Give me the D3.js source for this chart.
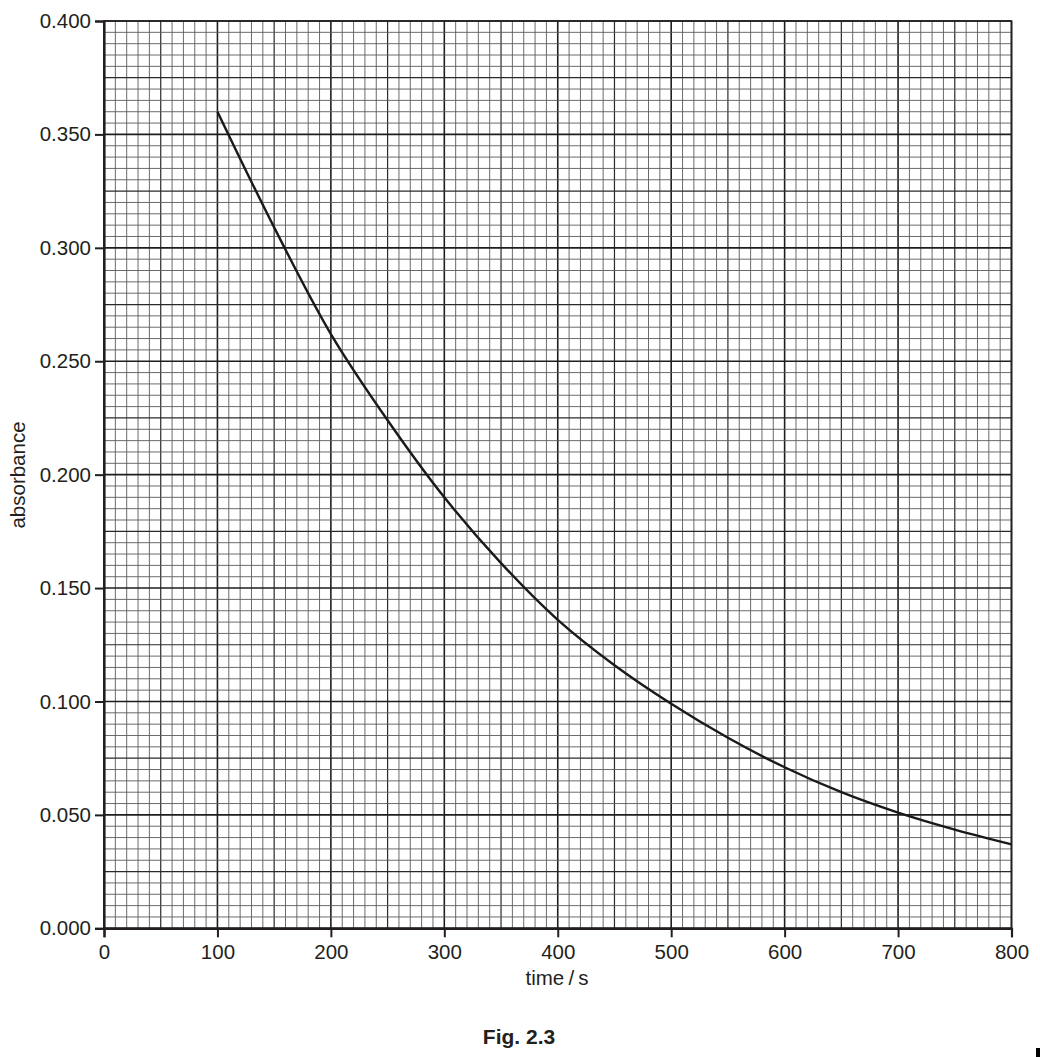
<!DOCTYPE html>
<html>
<head>
<meta charset="utf-8">
<script src="https://cdn.jsdelivr.net/npm/d3@7/dist/d3.min.js"></script>
<style>
  body { margin: 0; background: #fff; }
  text { font-family: "Liberation Sans", Arial, sans-serif; fill: #231f20; }
</style>
</head>
<body>
<script>
// Curve values (time in s, absorbance), every 50 s
const times = [100, 150, 200, 250, 300, 350, 400, 450, 500, 550, 600, 650, 700, 750, 800];
const absorbance = [0.360, 0.309, 0.262, 0.224, 0.190, 0.161, 0.136, 0.116, 0.099, 0.084, 0.071, 0.060, 0.051, 0.0435, 0.037];

// tick labels
const xTicks = [0, 100, 200, 300, 400, 500, 600, 700, 800];
const yTicks = [0, 0.05, 0.1, 0.15, 0.2, 0.25, 0.3, 0.35, 0.4];

const margin = { top: 21, left: 104 };
const width = 907.5;
const height = 907.3;

const svg = d3.select("body").append("svg")
  .attr("width", 1040)
  .attr("height", 1057);

const g = svg.append("g")
  .attr("transform", `translate(${margin.left},${margin.top})`);

const x = d3.scaleLinear().domain([0, 800]).range([0, width]);
const y = d3.scaleLinear().domain([0, 0.4]).range([height, 0]);

// graph paper: minor every 10 s / 0.005, medium at 50 s / 0.025, major at 100 s / 0.05
const xMinor = d3.range(0, 801, 10);
const yMinor = d3.range(0, 81).map(i => i * 0.005);

function lineStyle(i) {
  if (i % 10 === 0) return { c: "#1e1e1e", w: 1.6 };
  if (i % 5 === 0) return { c: "#2a2a2a", w: 1.2 };
  return { c: "#5a5a5a", w: 0.9 };
}

const grid = g.append("g").attr("class", "grid");

grid.selectAll("line.v")
  .data(xMinor)
  .join("line")
  .attr("class", "v")
  .attr("x1", d => x(d)).attr("x2", d => x(d))
  .attr("y1", 0).attr("y2", height)
  .attr("stroke", (d, i) => lineStyle(i).c)
  .attr("stroke-width", (d, i) => lineStyle(i).w);

grid.selectAll("line.h")
  .data(yMinor)
  .join("line")
  .attr("class", "h")
  .attr("x1", 0).attr("x2", width)
  .attr("y1", d => y(d)).attr("y2", d => y(d))
  .attr("stroke", (d, i) => lineStyle(i).c)
  .attr("stroke-width", (d, i) => lineStyle(i).w);

// frame
g.append("rect")
  .attr("width", width).attr("height", height)
  .attr("fill", "none").attr("stroke", "#231f20").attr("stroke-width", 1.6);

// axes
const xAxis = d3.axisBottom(x).tickValues(xTicks).tickSize(9).tickPadding(6).tickFormat(d3.format("d"));
const yAxis = d3.axisLeft(y).tickValues(yTicks).tickSize(9).tickPadding(4).tickFormat(d3.format(".3f"));

const gx = g.append("g").attr("transform", `translate(0,${height})`).call(xAxis);
const gy = g.append("g").call(yAxis);

[gx, gy].forEach(a => {
  a.select(".domain").attr("stroke", "#231f20").attr("stroke-width", 2.2);
  a.selectAll(".tick line").attr("stroke", "#231f20").attr("stroke-width", 2);
  a.selectAll(".tick text").attr("font-size", 20.5).attr("fill", "#231f20")
    .style("font-family", "'Liberation Sans', Arial, sans-serif");
});
gx.selectAll(".tick text").attr("dy", "0.78em");

// curve
const line = d3.line()
  .x((d, i) => x(times[i]))
  .y(d => y(d))
  .curve(d3.curveCatmullRom);

g.append("path")
  .datum(absorbance)
  .attr("d", line)
  .attr("fill", "none")
  .attr("stroke", "#1a1a1a")
  .attr("stroke-width", 2.4);

// labels
svg.append("text")
  .attr("x", 557).attr("y", 985)
  .attr("text-anchor", "middle")
  .attr("font-size", 20.5)
  .text("time\u2009/\u2009s");

svg.append("text")
  .attr("transform", "translate(25,475) rotate(-90)")
  .attr("text-anchor", "middle")
  .attr("font-size", 20.5)
  .text("absorbance");

svg.append("text")
  .attr("x", 519).attr("y", 1044)
  .attr("text-anchor", "middle")
  .attr("font-size", 21)
  .attr("font-weight", "bold")
  .text("Fig. 2.3");

// little margin mark at the bottom right
svg.append("rect")
  .attr("x", 1036).attr("y", 1048)
  .attr("width", 4).attr("height", 9)
  .attr("fill", "#000");
</script>
</body>
</html>
